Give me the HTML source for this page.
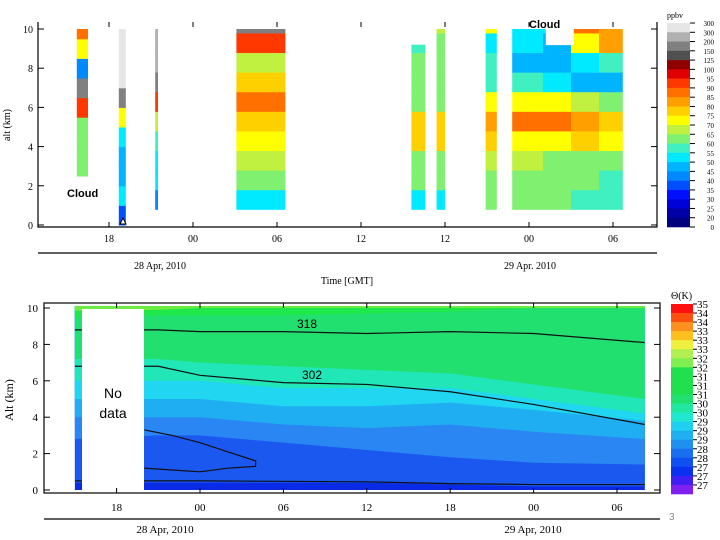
<!DOCTYPE html>
<html><head><meta charset="utf-8"><style>
body{margin:0;background:#fff;}
svg{display:block;font-family:"Liberation Serif",serif;}
</style></head><body>
<svg id="chart" width="720" height="540" viewBox="0 0 720 540">
<g id="top"></g>
<g id="bot"></g>
</svg>
<script>
// ===== Top panel data: ozone profiles (ppbv), 1 km bins starting at profileBottom =====
const profileStart = [-8.3, -5.3, -2.7, 3.1, 15.6, 17.4, 20.9, 22.8, 25.0, 27.0, 29.0];
const profileEnd   = [-7.5, -4.8, -2.5, 6.6, 16.6, 18.0, 21.7, 25.0, 27.0, 29.0, 30.7];
const profileBottom = [2.5, 0, 0.8, 0.8, 0.8, 0.8, 0.8, 0.8, 0.8, 0.8, 0.8];
const profileTop = [10, 10, 10, 10, 9.2, 10, 10, 10, 10, 10, 10];
const profileValues = [
  [60, 60, 60, 90, 150, 40, 70, 85],
  [35, 50, 45, 45, 50, 72, 150, 300, 300, 300, 300],
  [42, 50, 50, 55, 65, 90, 150, 200, 200, 200],
  [52, 60, 65, 70, 78, 88, 75, 65, 90, 150],
  [52, 60, 62, 78, 75, 62, 60, 60, 58],
  [52, 60, 62, 78, 78, 62, 60, 60, 62, 65],
  [60, 62, 65, 78, 80, 70, 58, 55, 50, 70],
  [60, 60, 65, 72, 85, 70, 58, 45, 50, 52],
  [60, 60, 62, 72, 85, 70, 50, 45, 48, 50],
  [58, 60, 62, 75, 80, 65, 45, 50, 70, 85],
  [55, 58, 60, 70, 75, 62, 48, 55, 80, 82]
];
const ozoneLevels = [0,20,25,30,35,40,45,50,55,60,65,70,75,80,85,90,95,100,125,150,200,300];
const ozoneLabels = ["0","20","25","30","35","40","45","50","55","60","65","70","75","80","85","90","95","100","125","150","200","300","300"];
const topTicks = ["18","00","06","12","12","00","06"];
const topTickHours = [-6, 0, 6, 12, 18, 24, 30];

// ===== Bottom panel data: theta bands =====
const bandTimes = [-9, -3, 0, 6, 12, 18, 24, 32];
const bandBounds = [
  [0.4,0.4,0.4,0.4,0.4,0.3,0.2,0.2],
  [2.8,3.0,3.0,2.6,2.2,1.8,1.5,1.4],
  [4.0,4.0,4.0,3.6,3.4,3.6,3.2,2.8],
  [5.0,5.0,5.0,4.6,4.6,4.8,4.4,3.8],
  [6.0,6.0,6.0,5.6,5.6,5.6,5.0,4.2],
  [7.2,7.2,7.0,6.8,6.6,6.4,5.8,5.0],
  [9.5,9.6,9.6,9.6,9.7,9.8,10,10],
  [9.85,9.9,10,10,10,10,10,10]
];
const line318 = [8.8,8.8,8.7,8.7,8.6,8.7,8.6,8.1];
const line302 = [6.8,6.8,6.3,5.9,5.8,5.4,4.7,3.6];
const line294Times = [-4, -2, 0, 2, 4, 4, 2, 0, -2, -4];
const line294Alt   = [3.3, 3.0, 2.6, 2.1, 1.6, 1.3, 1.2, 1.0, 1.1, 1.2];
const lineLowTimes = [-9, 0, 12, 18, 24, 32];
const lineLowAlt   = [0.5, 0.5, 0.45, 0.35, 0.3, 0.3];
const thetaLabels = ["35","34","34","33","33","33","32","32","31","31","31","30","30","29","29","29","28","28","27","27","27"];
const botTicks = ["18","00","06","12","18","00","06"];
const botTickHours = [-6, 0, 6, 12, 18, 24, 30];

const NS="http://www.w3.org/2000/svg";
function mk(parent, tag, attrs, text){const e=document.createElementNS(NS,tag);for(const k in attrs)e.setAttribute(k,attrs[k]);if(text!==undefined)e.textContent=text;parent.appendChild(e);return e;}
const ozoneColors=['#00007f','#0000a8','#0000d8','#0010ff','#0050ff','#0088ff','#00b4ff','#00eaff','#40f0c0','#80f070','#c0f040','#ffff00','#ffd000','#ffa000','#ff7000','#ff3800','#e00000','#900000','#505050','#808080','#b0b0b0','#e6e6e6'];
function ozColor(v){let i=0;for(let k=0;k<ozoneLevels.length;k++)if(v>=ozoneLevels[k])i=k;return ozoneColors[i];}

// ---- top panel ----
const T=document.getElementById('top');
const tx=h=>193+h*14, ty=a=>225-a*19.6;
profileStart.forEach((s,i)=>{
  const vals=profileValues[i];
  vals.forEach((v,j)=>{
    const a0=profileBottom[i]+j; const a1=Math.min(profileTop[i],a0+1);
    if(a1<=a0) return;
    const r=mk(T,'rect',{x:tx(s),y:ty(a1),width:tx(profileEnd[i])-tx(s),height:ty(a0)-ty(a1)+0.5,fill:ozColor(v)});
    
    
  });
});
mk(T,'rect',{x:tx(25.2),y:ty(10.3),width:28,height:22,fill:'#fff',});
mk(T,'path',{d:'M38 22 V227 H657 V22',fill:'none',stroke:'#000','stroke-width':1.2,});
for(let a=0;a<=10;a+=2){mk(T,'line',{x1:38,x2:44,y1:ty(a),y2:ty(a),stroke:'#000'});mk(T,'text',{x:33,y:ty(a)+4,'font-size':10,'text-anchor':'end',},String(a));
 mk(T,'line',{x1:651,x2:657,y1:ty(a),y2:ty(a),stroke:'#000'});}
topTickHours.forEach((h,i)=>{mk(T,'line',{x1:tx(h),x2:tx(h),y1:227,y2:222,stroke:'#000'});mk(T,'line',{x1:tx(h),x2:tx(h),y1:22,y2:27,stroke:'#000'});
 const t=mk(T,'text',{x:tx(h),y:242,'font-size':10,'text-anchor':'middle'},topTicks[i]);});
mk(T,'line',{x1:38,x2:657,y1:253,y2:253,stroke:'#000','stroke-width':1.2});
mk(T,'text',{x:160,y:269,'font-size':10,'text-anchor':'middle',},'28 Apr, 2010');
mk(T,'text',{x:530,y:269,'font-size':10,'text-anchor':'middle',},'29 Apr. 2010');
mk(T,'text',{x:347,y:284,'font-size':10,'text-anchor':'middle',},'Time [GMT]');
mk(T,'text',{x:10,y:125,'font-size':10,'text-anchor':'middle',transform:'rotate(-90 10 125)',},'alt (km)');
mk(T,'text',{x:67,y:197,'font-size':11,'font-weight':'bold','font-family':'Liberation Sans,sans-serif',},'Cloud');
mk(T,'text',{x:529,y:28,'font-size':11,'font-weight':'bold','font-family':'Liberation Sans,sans-serif',},'Cloud');
mk(T,'polygon',{points:'120,224 123,218 126,224',fill:'#fff',stroke:'#000',});
// top colorbar
const cb0=23,cbH=204/ozoneColors.length;
ozoneColors.slice().reverse().forEach((c,i)=>{const r=mk(T,'rect',{x:667,y:cb0+i*cbH,width:23,height:cbH+0.3,fill:c});});
ozoneLabels.slice().reverse().forEach((l,i)=>{mk(T,'line',{x1:690,x2:695,y1:cb0+i*cbH,y2:cb0+i*cbH,stroke:'#000'});const t=mk(T,'text',{x:714,y:cb0+i*cbH+3,'font-size':7,'text-anchor':'end'},l);});
mk(T,'text',{x:667,y:18,'font-size':8,},'ppbv');

// ---- bottom panel ----
const B=document.getElementById('bot');
const bx=h=>200+h*13.9, by=a=>490-a*18.2;
const bandColors=['#0a2be6','#1a58f0','#2a86f2','#20aef2','#20d6f0','#20e6b8','#22e070','#1ee84a','#70ec40','#f0d040'];
mk(B,'rect',{x:bx(bandTimes[0]),y:by(10.1),width:bx(32)-bx(bandTimes[0]),height:by(0)-by(10.1),fill:bandColors[0],});
bandBounds.forEach((arr,k)=>{
  let d='M'+bx(bandTimes[0])+' '+by(10.1);
  arr.forEach((a,i)=>{d+=' L'+bx(bandTimes[i])+' '+by(a);});
  d+=' L'+bx(bandTimes[bandTimes.length-1])+' '+by(10.1)+' Z';
  const p=mk(B,'path',{d:d,fill:bandColors[k+1]});
  
  
});
function contour(times,alts,name){const pts=times.map((t,i)=>bx(t)+','+by(alts[i])).join(' ');const p=mk(B,'polyline',{points:pts,fill:'none',stroke:'#111','stroke-width':1.2});}
contour(bandTimes,line318,'contour-318');
contour(bandTimes,line302,'contour-302');
contour(line294Times,line294Alt,'contour-294');
contour(lineLowTimes,lineLowAlt,'contour-low');
mk(B,'rect',{x:82,y:309,width:62,height:186,fill:'#fff',});
mk(B,'text',{x:113,y:398,'font-size':14,'text-anchor':'middle','font-family':'Liberation Sans,sans-serif',},'No');
mk(B,'text',{x:113,y:418,'font-size':14,'text-anchor':'middle','font-family':'Liberation Sans,sans-serif'},'data');
mk(B,'text',{x:307,y:328,'font-size':12,'text-anchor':'middle','font-family':'Liberation Sans,sans-serif',},'318');
mk(B,'text',{x:312,y:379,'font-size':12,'text-anchor':'middle','font-family':'Liberation Sans,sans-serif',},'302');
mk(B,'rect',{x:44,y:303,width:616,height:190,fill:'none',stroke:'#000','stroke-width':1.2,});
for(let a=0;a<=10;a+=2){mk(B,'line',{x1:44,x2:50,y1:by(a),y2:by(a),stroke:'#000'});mk(B,'text',{x:38,y:by(a)+4,'font-size':11,'text-anchor':'end',},String(a));mk(B,'line',{x1:654,x2:660,y1:by(a),y2:by(a),stroke:'#000'});}
botTickHours.forEach((h,i)=>{mk(B,'line',{x1:bx(h),x2:bx(h),y1:493,y2:488,stroke:'#000'});mk(B,'line',{x1:bx(h),x2:bx(h),y1:303,y2:308,stroke:'#000'});
 const t=mk(B,'text',{x:bx(h),y:511,'font-size':11,'text-anchor':'middle'},botTicks[i]);});
mk(B,'line',{x1:44,x2:660,y1:519,y2:519,stroke:'#000','stroke-width':1.2});
mk(B,'text',{x:165,y:533,'font-size':11,'text-anchor':'middle',},'28 Apr, 2010');
mk(B,'text',{x:533,y:533,'font-size':11,'text-anchor':'middle',},'29 Apr, 2010');
mk(B,'text',{x:13,y:400,'font-size':12,'text-anchor':'middle',transform:'rotate(-90 13 400)',},'Alt (km)');
const thetaColors=['#ff1010','#ff5010','#ff9020','#ffc020','#f0f040','#b0f050','#80f050','#20e050','#20e050','#20e050','#20e070','#20e8a0','#20e8d0','#20d0f0','#20b0f0','#2090f0','#1a6ef0','#1050f0','#0a30f0','#4020f0','#8020f0'];
const tb0=304,tbH=190/thetaColors.length;
thetaColors.forEach((c,i)=>{const r=mk(B,'rect',{x:671,y:tb0+i*tbH,width:22,height:tbH+0.3,fill:c});});
thetaLabels.forEach((l,i)=>{mk(B,'line',{x1:693,x2:697,y1:tb0+i*tbH,y2:tb0+i*tbH,stroke:'#000'});const t=mk(B,'text',{x:697,y:tb0+i*tbH+4,'font-size':11},l);});
mk(B,'text',{x:671,y:299,'font-size':10,},'Θ(K)');
mk(B,'text',{x:669,y:520,'font-size':10,fill:'#888','font-family':'Liberation Sans,sans-serif',},'3');
</script>
</body></html>
